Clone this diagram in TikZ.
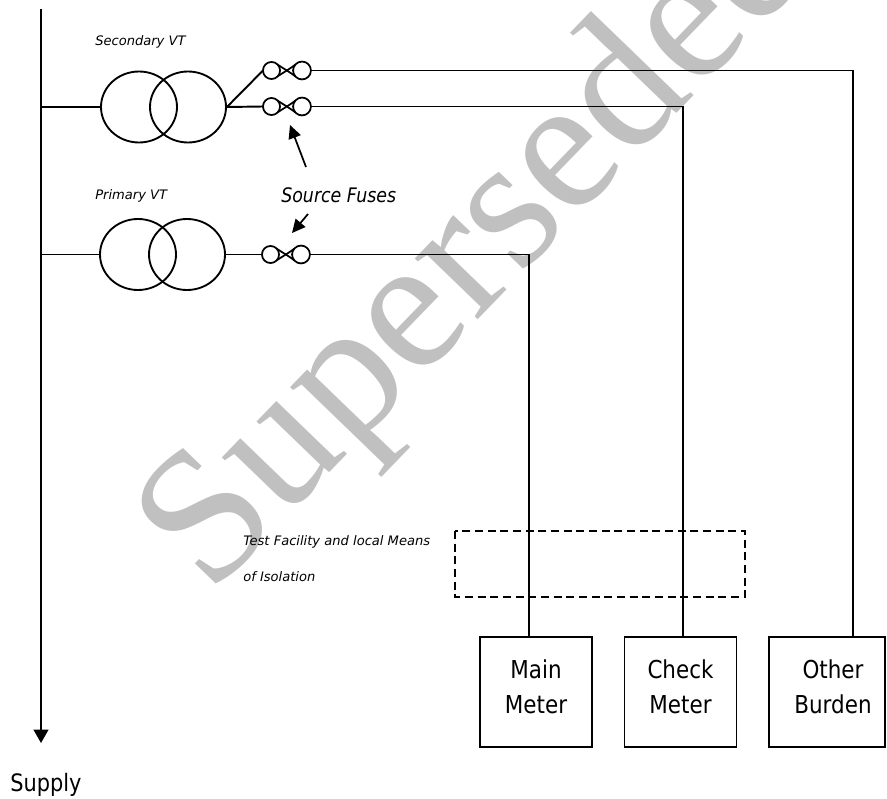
\documentclass[tikz,border=0pt]{standalone}
\usepackage{fontspec}
\usetikzlibrary{arrows.meta,shapes.geometric,calc}
\newfontfamily\mainf[FakeStretch=0.87]{DejaVu Sans}
\newfontfamily\smallf{DejaVu Sans}
\newfontfamily\wmf{Liberation Serif}
\definecolor{wmgray}{RGB}{192,192,192}
\begin{document}
\begin{tikzpicture}[x=0.75pt,y=-0.75pt,
  wire/.style={line width=1.45pt},
  vtcoil/.style={ellipse,draw,line width=1.4pt,minimum width=57pt,minimum height=53.25pt,inner sep=0pt},
  meterbox/.style={rectangle,draw,line width=1.4pt,minimum width=84pt,minimum height=82.5pt,inner sep=0pt},
  metertext/.style={font=\mainf\fontsize{18.5}{26.25}\selectfont,align=center,inner sep=0pt},
  smalllabel/.style={font=\smallf\itshape\fontsize{9.8}{11}\selectfont,anchor=base west,inner sep=0pt},
  pointer/.style={line width=1.3pt,-{Triangle[length=10pt,width=9.5pt]}},
  fuse/.pic={
    \draw[line width=1.3pt] (-15.5,0) circle[radius=6.4pt];
    \draw[line width=1.3pt] (15,0) circle[radius=6.7pt];
    \draw[line width=1.3pt] (-9,-5.6) .. controls (-2,-1) and (2,1) .. (8.2,5.8);
    \draw[line width=1.3pt] (-9,5.6) .. controls (-2,1) and (2,-1) .. (8.2,-5.8);
    \coordinate (-l) at (-24,0);
    \coordinate (-r) at (24,0);
  }]
\useasboundingbox (0,0) rectangle (887,798);

% watermark
\node[font=\wmf\fontsize{143}{143}\selectfont,text=wmgray,rotate=46,anchor=base west,inner sep=0pt] (wm) at (210,597) {Superseded};

% bus
\coordinate (bt) at (41,9);
\coordinate (bb) at (41,743);
\draw[line width=1.45pt,-{Triangle[length=10pt,width=11pt]}] (bt) -- (bb);
\node[font=\mainf\fontsize{18}{20}\selectfont,anchor=base west,inner sep=0pt] (supply) at (10,791) {Supply};

% secondary VT
\node[vtcoil] (s1) at (139,107) {};
\node[vtcoil] (s2) at (188,107) {};
\node[smalllabel] (slab) at (95,45.5) {Secondary VT};
% primary VT
\node[vtcoil] (p1) at (138,254.5) {};
\node[vtcoil] (p2) at (187,254.5) {};
\node[smalllabel] (plab) at (95,200) {Primary VT};

\draw[wire] (s1.west) -- (s1.west -| bt);
\draw[wire] (p1.west) -- (p1.west -| bt);

% fuses
\pic (f1) at (287,70.5) {fuse};
\pic (f2) at (287,106.5) {fuse};
\pic (f3) at (286,254.5) {fuse};

\draw[wire] (s2.east) -- (f1-l);
\draw[wire] (s2.east) -- (f2-l);
\draw[wire] (p2.east) -- (f3-l);

% meters
\node[meterbox] (mm) at (536,692) {};
\node[meterbox] (cm) at (680.5,692) {};
\node[meterbox,minimum width=87pt] (ob) at (827,692) {};
\node[metertext] (mmt) at (536,687) {Main\\Meter};
\node[metertext] (cmt) at (680.5,687) {Check\\Meter};
\node[metertext] (obt) at (833,687) {Other\\Burden};

\coordinate (md) at (529,637);
\coordinate (cd) at (683,637);
\coordinate (od) at (853,637);
\draw[wire] (f1-r) -| (od);
\draw[wire] (f2-r) -| (cd);
\draw[wire] (f3-r) -| (md);

% test facility
\draw[line width=1.2pt,dash pattern=on 6pt off 3.5pt] (455,531) rectangle (745,597);
\node[smalllabel] (tf1) at (243,545) {Test Facility and local Means};
\node[smalllabel] (tf2) at (243,581.5) {of Isolation};

% source fuses
\node[font=\mainf\itshape\fontsize{15}{17}\selectfont,anchor=base west,inner sep=0pt] (sf) at (281,203) {Source Fuses};
\coordinate (a1s) at (306,167);
\coordinate (a1e) at (290,125);
\coordinate (a2s) at (308,214);
\coordinate (a2e) at (292,233);
\draw[pointer] (a1s) -- (a1e);
\draw[pointer] (a2s) -- (a2e);
\end{tikzpicture}
\end{document}
